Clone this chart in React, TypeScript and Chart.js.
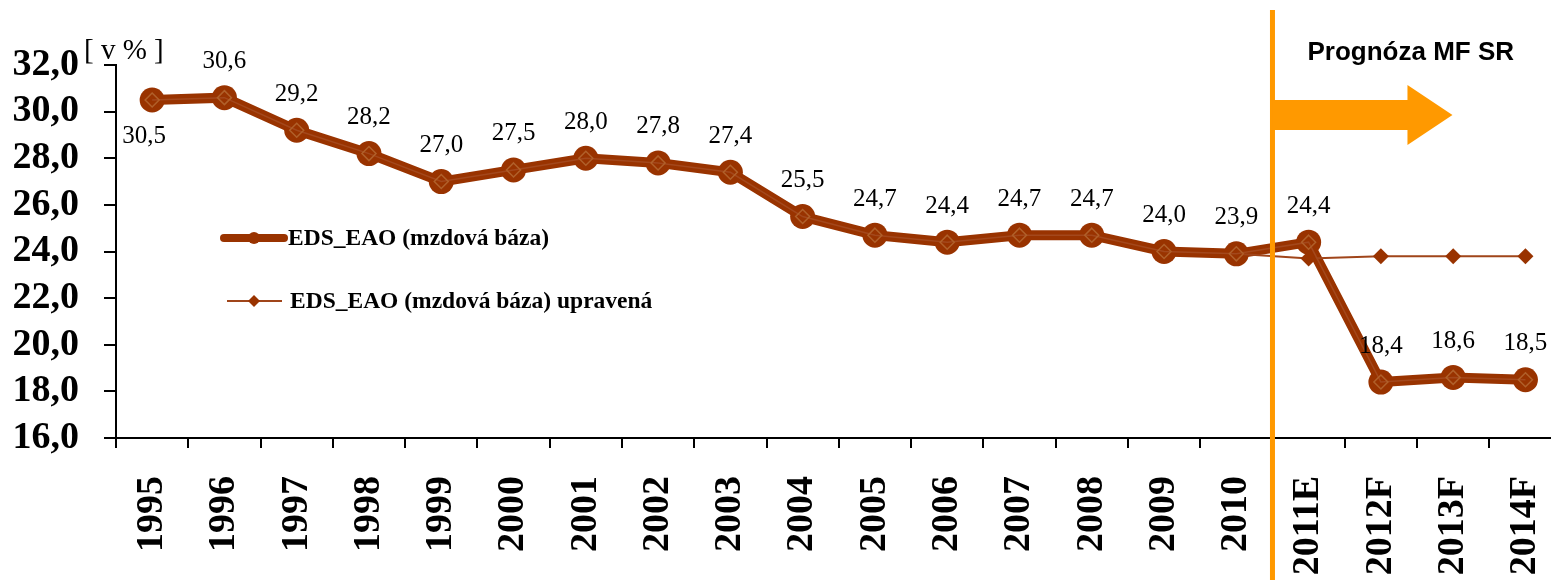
import React, { useEffect, useRef } from 'react';
import { Chart, registerables } from 'chart.js';

Chart.register(...registerables);

const categories = ['1995', '1996', '1997', '1998', '1999', '2000', '2001', '2002', '2003', '2004', '2005', '2006', '2007', '2008', '2009', '2010', '2011E', '2012F', '2013F', '2014F'];
const mainValues = [30.5, 30.6, 29.2, 28.2, 27.0, 27.5, 28.0, 27.8, 27.4, 25.5, 24.7, 24.4, 24.7, 24.7, 24.0, 23.9, 24.4, 18.4, 18.6, 18.5];
const adjustedValues: (number | null)[] = [null, null, null, null, null, null, null, null, null, null, null, null, null, null, null, 23.9, 23.7, 23.8, 23.8, 23.8];
const yMin = 16;
const yMax = 32;
const yStep = 2;
const mainLabel = 'EDS_EAO (mzdová báza)';
const adjustedLabel = 'EDS_EAO (mzdová báza) upravená';
const unitLabel = '[ v % ]';
const forecastLabel = 'Prognóza MF SR';
const forecastStartIndex = 16;

const BROWN = '#993300';
const ORANGE = '#FF9900';
const SERIF = '"Liberation Serif", "Times New Roman", serif';
const SANS = '"Liberation Sans", Arial, sans-serif';

const fmt = (v: number) => v.toFixed(1).replace('.', ',');

const overlayPlugin = {
  id: 'overlay',
  afterDatasetsDraw(chart: any) {
    const ctx = chart.ctx as CanvasRenderingContext2D;
    const area = chart.chartArea;
    const xs = chart.scales.x;
    const meta0 = chart.getDatasetMeta(0);

    ctx.save();
    // inner highlight line of main series
    ctx.strokeStyle = '#A3481C';
    ctx.lineWidth = 1.5;
    ctx.beginPath();
    meta0.data.forEach((p: any, i: number) => {
      if (i === 0) ctx.moveTo(p.x, p.y);
      else ctx.lineTo(p.x, p.y);
    });
    ctx.stroke();
    // inner diamonds
    ctx.strokeStyle = '#B0602A';
    ctx.lineWidth = 1.5;
    meta0.data.forEach((p: any) => {
      const s = 7;
      ctx.beginPath();
      ctx.moveTo(p.x, p.y - s);
      ctx.lineTo(p.x + s, p.y);
      ctx.lineTo(p.x, p.y + s);
      ctx.lineTo(p.x - s, p.y);
      ctx.closePath();
      ctx.stroke();
    });

    // data labels
    ctx.fillStyle = '#000';
    ctx.font = `25px ${SERIF}`;
    ctx.textAlign = 'center';
    ctx.textBaseline = 'middle';
    meta0.data.forEach((p: any, i: number) => {
      const v = mainValues[i];
      if (i === 0) ctx.fillText(fmt(v), p.x - 8, p.y + 36);
      else ctx.fillText(fmt(v), p.x, p.y - 36);
    });

    // legend
    const lx = area.left;
    ctx.strokeStyle = BROWN;
    ctx.fillStyle = BROWN;
    ctx.lineCap = 'round';
    ctx.lineWidth = 8;
    ctx.beginPath();
    ctx.moveTo(lx + 108, 238);
    ctx.lineTo(lx + 168, 238);
    ctx.stroke();
    ctx.beginPath();
    ctx.arc(lx + 138, 238, 6, 0, Math.PI * 2);
    ctx.fill();
    ctx.lineCap = 'butt';
    ctx.lineWidth = 2;
    ctx.strokeStyle = '#A0451A';
    ctx.beginPath();
    ctx.moveTo(lx + 111, 301);
    ctx.lineTo(lx + 166, 301);
    ctx.stroke();
    ctx.beginPath();
    ctx.moveTo(lx + 138, 301 - 6);
    ctx.lineTo(lx + 144, 301);
    ctx.lineTo(lx + 138, 301 + 6);
    ctx.lineTo(lx + 132, 301);
    ctx.closePath();
    ctx.fill();
    ctx.fillStyle = '#000';
    ctx.font = `bold 23.5px ${SERIF}`;
    ctx.textAlign = 'left';
    ctx.fillText(mainLabel, lx + 172, 239);
    ctx.fillText(adjustedLabel, lx + 174, 302);

    // unit label
    ctx.font = `29px ${SERIF}`;
    ctx.textBaseline = 'alphabetic';
    ctx.fillText(unitLabel, 84, 59);

    // forecast divider
    const divX = (xs.getPixelForValue(forecastStartIndex - 1) + xs.getPixelForValue(forecastStartIndex)) / 2;
    ctx.fillStyle = ORANGE;
    ctx.fillRect(divX - 2.5, 10, 5, chart.height - 10);
    // arrow
    ctx.beginPath();
    ctx.moveTo(divX, 100);
    ctx.lineTo(divX + 135, 100);
    ctx.lineTo(divX + 135, 85);
    ctx.lineTo(divX + 180, 115);
    ctx.lineTo(divX + 135, 145);
    ctx.lineTo(divX + 135, 130);
    ctx.lineTo(divX, 130);
    ctx.closePath();
    ctx.fill();
    ctx.fillStyle = '#000';
    ctx.font = `bold 26px ${SANS}`;
    ctx.textAlign = 'left';
    ctx.fillText(forecastLabel, divX + 35, 60);
    ctx.restore();
  },
};

export default function App() {
  const ref = useRef<HTMLCanvasElement | null>(null);
  useEffect(() => {
    document.documentElement.style.overflow = 'hidden';
    document.body.style.overflow = 'hidden';
    const canvas = ref.current;
    if (!canvas) return;
    const chart = new Chart(canvas, {
      type: 'line',
      data: {
        labels: categories,
        datasets: [
          {
            label: mainLabel,
            data: mainValues,
            borderColor: BROWN,
            backgroundColor: BROWN,
            borderWidth: 10,
            pointRadius: 12.5,
            pointBackgroundColor: BROWN,
            pointBorderWidth: 0,
            tension: 0,
            order: 1,
          },
          {
            label: adjustedLabel,
            data: adjustedValues,
            borderColor: '#A0451A',
            backgroundColor: BROWN,
            borderWidth: 2,
            pointStyle: 'rectRot',
            pointRadius: 8,
            pointBackgroundColor: BROWN,
            pointBorderWidth: 0,
            tension: 0,
            order: 0,
          },
        ],
      },
      options: {
        responsive: false,
        animation: false,
        layout: { padding: { top: 65, right: 38, left: 0, bottom: 0 } },
        plugins: {
          legend: { display: false },
          tooltip: { enabled: false },
        },
        scales: {
          x: {
            type: 'category',
            offset: true,
            afterFit(scale: any) {
              scale.height = 142;
            },
            grid: {
              display: true,
              offset: true,
              drawOnChartArea: false,
              drawTicks: true,
              tickLength: 10,
              color: '#000',
              lineWidth: 2,
            },
            border: { display: true, color: '#000', width: 2 },
            ticks: {
              autoSkip: false,
              minRotation: 90,
              maxRotation: 90,
              padding: 28,
              color: '#000',
              font: { family: SERIF, size: 38, weight: 'bold' },
            },
          },
          y: {
            min: yMin,
            max: yMax,
            afterFit(scale: any) {
              scale.width = 116;
            },
            grid: {
              display: true,
              drawOnChartArea: false,
              drawTicks: true,
              tickLength: 12,
              color: '#000',
              lineWidth: 2,
            },
            border: { display: true, color: '#000', width: 2 },
            ticks: {
              autoSkip: false,
              stepSize: yStep,
              padding: 25,
              color: '#000',
              font: { family: SERIF, size: 38, weight: 'bold' },
              callback: (v: any) => fmt(Number(v)),
            },
          },
        },
      },
      plugins: [overlayPlugin],
    } as any);
    return () => chart.destroy();
  }, []);
  return (
    <div style={{ position: 'fixed', left: 0, top: 0, width: 1600, height: 580 }}>
      <canvas ref={ref} width={1600} height={580} />
    </div>
  );
}
